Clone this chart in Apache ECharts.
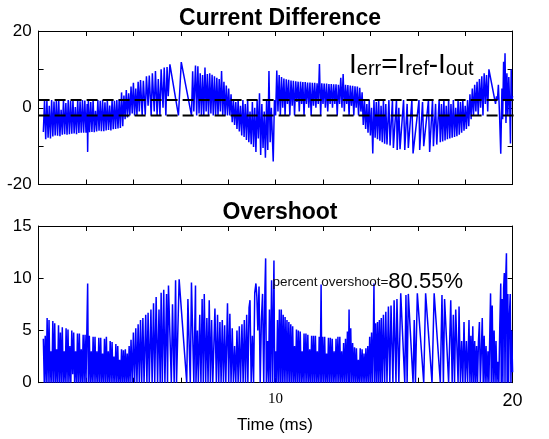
<!DOCTYPE html>
<html>
<head>
<meta charset="utf-8">
<style>
html,body{margin:0;padding:0;background:#fff;}
#chart{width:549px;height:439px;}
</style>
<script src="https://cdn.jsdelivr.net/npm/echarts@6.0.0/dist/echarts.min.js"></script>
</head>
<body>
<div id="chart"></div>
<script>
// ---------------- data (time in ms, value) ----------------
// Current difference I_err, read piecewise from the reference
const ierrA = [[0.20,-6.3],[0.25,1.8],[0.30,-8.2],[0.35,2.0],[0.40,-7.8],[0.45,0.5],[0.50,-8.0],[0.55,2.0],[0.60,-7.5],[0.65,1.6],[0.70,-7.2],[0.75,2.1],[0.80,-7.3],[0.85,1.9],[0.90,-7.4],[0.95,-0.5],[1.00,-7.0],[1.05,2.0],[1.10,-6.9],[1.15,1.2],[1.20,-7.0],[1.25,2.0],[1.30,-6.9],[1.35,1.8],[1.40,-6.8],[1.45,2.1],[1.50,-6.7],[1.55,0.2],[1.60,-6.9],[1.65,2.0],[1.70,-6.6],[1.75,1.7],[1.80,-6.5],[1.85,2.0],[1.90,-6.5],[1.95,1.9],[2.00,-6.5],[2.05,1.0],[2.07,-11.5],[2.10,2.0],[2.15,-6.4],[2.20,1.5],[2.25,-6.3],[2.30,2.0],[2.35,-6.4],[2.40,-0.8],[2.45,-6.2],[2.50,2.0],[2.55,-6.0],[2.60,1.8],[2.65,-6.1],[2.70,2.0],[2.75,-6.1],[2.80,1.4],[2.85,-5.9],[2.90,2.0],[2.95,-5.8],[3.00,0.6],[3.05,-5.9],[3.10,2.1],[3.15,-5.6],[3.20,1.8],[3.25,-5.5],[3.30,2.0],[3.35,-5.4],[3.40,2.2],[3.45,-5.3]];
const ierrB = [[3.50,4.0],[3.55,-4.8],[3.60,3.2],[3.65,-3.0],[3.70,4.6],[3.75,-2.5],[3.80,3.8],[3.85,-2.0],[3.90,5.5],[3.95,-1.5],[4.00,6.5],[4.05,-2.0],[4.10,5.0],[4.15,-2.0],[4.20,6.8],[4.25,-1.0],[4.30,7.2],[4.37,-2.0],[4.42,7.0],[4.50,-1.8],[4.55,8.2],[4.62,0.5],[4.67,8.4],[4.75,-2.0],[4.80,9.0],[4.88,-1.0],[4.93,9.6],[5.00,-2.0],[5.05,7.5],[5.12,-2.0],[5.17,10.0],[5.25,0.0],[5.30,10.5],[5.37,-2.0],[5.42,10.6],[5.47,3.0],[5.54,11.3],[5.90,-2.0],[6.02,11.9],[6.45,-2.0],[6.50,9.5],[6.55,-1.0],[6.62,11.0]];
const ierrC = [[6.67,-2.0],[6.72,10.8],[6.77,-1.5],[6.82,9.0],[6.87,-2.0],[6.92,8.5],[6.97,-2.0],[7.02,10.5],[7.07,-1.0],[7.12,8.8],[7.17,-2.0],[7.22,9.0],[7.27,-1.5],[7.32,8.6],[7.37,-2.0],[7.42,8.2],[7.47,-2.0],[7.52,7.8],[7.57,-2.0],[7.62,7.5],[7.67,-1.0],[7.72,9.6],[7.77,-2.0],[7.82,6.8],[7.87,-2.0],[7.92,5.8],[7.97,-2.0],[8.02,5.0],[8.07,-2.0],[8.12,3.5]];
const ierrD = [[8.17,-3.8],[8.22,2.0],[8.27,-4.5],[8.32,1.5],[8.37,-5.5],[8.42,2.0],[8.47,-6.2],[8.52,0.5],[8.57,-7.2],[8.62,2.0],[8.67,-7.6],[8.72,1.0],[8.77,-8.4],[8.82,2.0],[8.87,-9.0],[8.92,-1.0],[8.97,-9.5],[9.02,1.5],[9.07,-10.2],[9.12,0.0],[9.17,-11.5],[9.22,2.0],[9.27,-8.0],[9.32,3.8],[9.37,-12.3],[9.42,1.0],[9.47,-10.5],[9.52,-1.0],[9.57,-13.0],[9.62,2.0],[9.67,-11.0],[9.72,9.6],[9.77,-9.0],[9.82,0.0],[9.90,-14.0],[9.95,2.0]];
const ierrE = [[10.00,-2.0],[10.05,9.7],[10.10,-1.0],[10.15,8.5],[10.20,-2.0],[10.25,8.0],[10.30,0.0],[10.35,7.6],[10.40,-2.0],[10.45,7.4],[10.50,1.0],[10.55,7.3],[10.60,-2.0],[10.65,7.1],[10.70,0.5],[10.75,7.0],[10.80,-2.0],[10.85,6.9],[10.90,1.5],[10.95,6.8],[11.00,-1.0],[11.05,6.8],[11.10,1.0],[11.15,6.7],[11.20,-2.0],[11.25,6.7],[11.30,1.0],[11.35,6.6],[11.40,0.0],[11.45,6.6],[11.50,-2.0],[11.55,6.5],[11.60,0.5],[11.65,6.5],[11.70,0.0],[11.75,6.4],[11.80,1.0],[11.85,11.4],[11.90,-2.0],[11.95,6.4],[12.00,1.0],[12.05,6.3],[12.10,0.0],[12.15,6.3],[12.20,-1.0],[12.25,6.2],[12.30,1.0],[12.35,6.2],[12.40,0.0],[12.45,6.1],[12.50,1.0],[12.55,6.1],[12.60,-2.0],[12.65,6.0],[12.70,1.0],[12.75,7.8],[12.80,0.0],[12.85,8.8],[12.90,-1.0],[12.95,6.0],[13.00,1.0],[13.05,5.9],[13.10,-2.0],[13.15,5.8],[13.20,0.5],[13.25,5.7],[13.30,-2.0],[13.35,5.6],[13.40,0.0],[13.45,5.5],[13.50,-2.0],[13.55,5.2],[13.60,-1.0],[13.65,4.0]];
const ierrF = [[13.70,-4.5],[13.75,2.0],[13.80,-5.5],[13.85,1.0],[13.90,-6.5],[13.95,2.0],[14.00,-7.2],[14.05,0.0],[14.10,-11.9],[14.15,2.0],[14.20,-7.8],[14.25,1.5],[14.30,-8.2],[14.35,2.0],[14.40,-8.6],[14.45,0.5],[14.50,-9.0],[14.55,2.0],[14.60,-9.4],[14.65,1.0],[14.70,-9.6],[14.78,2.0],[14.83,-9.8],[14.93,2.0],[14.97,-10.5],[15.10,2.0],[15.13,-11.0],[15.20,0.0],[15.25,-10.8],[15.40,2.0],[15.45,-11.0],[15.55,1.0],[15.60,-10.5],[15.75,2.0],[15.80,-11.9],[16.05,2.0],[16.08,-11.0],[16.20,1.5],[16.25,-10.0],[16.45,2.0],[16.50,-11.5],[16.62,2.0],[16.66,-10.0],[16.75,1.0],[16.80,-9.6],[16.90,2.0],[16.95,-9.0],[17.00,1.0],[17.05,-8.8],[17.10,2.0],[17.15,-8.5],[17.20,0.5],[17.25,-8.2],[17.30,2.0],[17.35,-8.0],[17.40,1.0],[17.45,-7.8],[17.50,2.0],[17.55,-7.6],[17.60,0.0],[17.65,-7.4],[17.70,2.0],[17.75,-7.0],[17.80,1.5],[17.85,-6.5],[17.90,2.0],[17.95,-6.0],[18.00,0.5],[18.05,-5.5],[18.10,2.0],[18.15,-4.8],[18.20,3.5]];
const ierrG = [[18.25,-3.0],[18.30,5.0],[18.35,-2.0],[18.40,6.0],[18.45,-1.0],[18.50,6.8],[18.55,-2.0],[18.60,7.5],[18.65,0.0],[18.70,8.2],[18.75,-2.0],[18.80,9.0],[18.85,1.0],[18.90,8.5],[18.95,-1.0],[19.00,10.0],[19.28,1.0],[19.32,3.0],[19.36,2.0],[19.40,6.0],[19.45,-2.0],[19.50,-12.0],[19.55,5.0],[19.58,-3.0],[19.62,12.0],[19.65,2.0],[19.68,14.2],[19.72,-4.0],[19.76,9.0],[19.80,-2.0],[19.84,8.0],[19.88,0.0],[19.91,-9.3],[19.94,10.0],[19.97,2.0],[20.00,3.0]];

// hysteresis band levels and the x extent of the dashed band lines
const bandLevels = [2, -2];
const bandExtent = [0, 21.5];

// Overshoot, read piecewise from the reference
const overA = [[0.20,4.2],[0.24,0],[0.28,4.5],[0.32,0],[0.36,6.2],[0.40,0],[0.44,6.0],[0.48,0],[0.52,3.0],[0.56,0],[0.60,5.9],[0.64,0],[0.68,5.7],[0.72,0],[0.76,3.2],[0.80,0],[0.84,5.5],[0.88,0],[0.92,4.8],[0.96,0],[1.00,5.3],[1.04,0],[1.08,3.0],[1.12,0],[1.16,5.2],[1.20,0],[1.24,5.1],[1.28,0],[1.32,3.5],[1.36,0],[1.40,5.0],[1.44,0.8],[1.48,4.8],[1.52,0],[1.56,3.0],[1.60,0],[1.64,4.7],[1.68,0],[1.72,4.7],[1.76,0],[1.80,3.2],[1.84,0],[1.88,4.6],[1.92,0],[1.96,4.6],[2.00,0],[2.04,5.5],[2.07,9.5],[2.10,0],[2.14,4.5],[2.18,0],[2.22,3.0],[2.26,0],[2.30,4.4],[2.34,0],[2.38,4.4],[2.42,0],[2.46,3.0],[2.50,0],[2.54,4.3],[2.58,0],[2.62,4.3],[2.66,0],[2.70,2.8],[2.74,0],[2.78,4.2],[2.82,0],[2.86,4.4],[2.90,0],[2.94,3.0],[2.98,0],[3.02,4.0],[3.06,0],[3.10,3.9],[3.14,0],[3.18,2.5],[3.22,0],[3.26,3.7],[3.30,0],[3.34,3.5],[3.38,0],[3.42,2.2],[3.46,0],[3.50,3.2],[3.54,0],[3.58,3.1],[3.62,0],[3.66,3.2],[3.70,0],[3.74,2.8],[3.78,0],[3.82,3.5]];
const overB = [[3.86,0],[3.90,4.1],[3.95,0],[4.00,4.8],[4.05,0],[4.10,5.2],[4.15,0],[4.20,5.6],[4.25,0],[4.30,6.0],[4.35,0],[4.40,6.2],[4.45,0],[4.52,6.5],[4.57,0],[4.62,6.7],[4.67,0],[4.74,7.0],[4.79,0],[4.85,7.6],[4.90,0],[4.96,8.2],[5.02,0],[5.08,7.0],[5.13,0],[5.17,8.6],[5.22,0],[5.28,8.9],[5.33,0],[5.40,8.5],[5.44,0],[5.48,9.3],[5.60,0],[5.65,7.5],[5.72,0],[5.78,9.8],[5.82,0],[5.93,9.9],[6.25,0],[6.30,8.0],[6.40,0],[6.45,9.6],[6.55,0]];
const overC = [[6.62,9.3],[6.64,0],[6.70,5.0],[6.74,0],[6.80,6.5],[6.85,0],[6.90,8.0],[6.95,0],[6.99,8.5],[7.05,0],[7.10,6.2],[7.15,0],[7.20,7.9],[7.25,0],[7.30,6.0],[7.35,0],[7.44,7.1],[7.50,0],[7.55,6.5],[7.60,0],[7.65,5.8],[7.70,0],[7.75,6.0],[7.80,0],[7.85,5.5],[7.90,0],[7.97,7.6],[8.02,0],[8.07,6.6],[8.12,0],[8.17,5.2],[8.22,0],[8.27,3.5],[8.32,0],[8.37,5.0],[8.42,0],[8.47,5.4],[8.52,0],[8.58,5.6],[8.63,0],[8.68,6.0],[8.73,0],[8.78,6.5],[8.83,0],[8.88,7.2],[8.92,7.9],[8.97,0],[9.02,4.5],[9.07,0],[9.12,8.6],[9.17,9.5],[9.21,8.2],[9.25,5.0],[9.30,9.2],[9.35,0],[9.40,6.0],[9.45,8.5],[9.50,0],[9.55,9.0],[9.58,11.9],[9.61,0],[9.66,4.0],[9.70,0],[9.74,7.0],[9.78,0],[9.83,9.8],[9.87,0],[9.93,11.7],[9.96,0],[10.00,3.0],[10.04,0]];
const overD = [[10.08,6.0],[10.12,0],[10.16,7.0],[10.20,0],[10.24,7.0],[10.28,0],[10.32,6.5],[10.36,0],[10.40,6.3],[10.44,0],[10.48,6.0],[10.52,0],[10.56,5.8],[10.60,0],[10.64,5.6],[10.68,0],[10.72,5.4],[10.76,0],[10.80,3.5],[10.84,0],[10.88,5.1],[10.92,0],[10.96,5.0],[11.00,0],[11.04,4.9],[11.08,0],[11.12,3.0],[11.16,0],[11.20,4.7],[11.24,0],[11.28,4.7],[11.32,0],[11.36,4.6],[11.40,0],[11.44,3.2],[11.48,0],[11.52,4.5],[11.56,0],[11.60,4.5],[11.64,0],[11.68,4.5],[11.72,0],[11.76,3.0],[11.80,0],[11.84,4.4],[11.88,0],[11.92,9.4],[11.95,0],[11.99,4.4],[12.03,0],[12.07,4.4],[12.11,0],[12.15,2.8],[12.19,0],[12.23,4.3],[12.27,0],[12.31,4.3],[12.35,0],[12.39,4.2],[12.43,0],[12.47,3.0],[12.51,0],[12.55,4.2],[12.59,0],[12.63,4.4],[12.67,0],[12.71,4.4],[12.75,0],[12.79,3.0],[12.83,0],[12.87,3.8],[12.91,0],[12.95,4.2],[12.99,0],[13.03,4.9],[13.07,0],[13.10,7.0],[13.13,0],[13.17,5.2],[13.21,0],[13.25,3.8],[13.29,0],[13.33,3.4],[13.37,0],[13.41,3.3],[13.45,0],[13.49,2.2],[13.53,0],[13.57,3.3],[13.61,0],[13.65,3.2],[13.69,0],[13.73,2.8],[13.77,0],[13.81,3.3],[13.85,0],[13.89,3.5],[13.93,0]];
const overE = [[13.97,4.4],[14.01,0],[14.05,4.8],[14.09,0],[14.13,5.5],[14.15,9.5],[14.18,0],[14.22,5.7],[14.26,0],[14.30,5.8],[14.34,0],[14.38,6.0],[14.42,0],[14.46,6.2],[14.50,0],[14.55,6.5],[14.60,0],[14.65,6.8],[14.70,0],[14.76,7.3],[14.82,0],[14.87,7.4],[14.95,0],[15.00,7.9],[15.08,0],[15.12,8.0],[15.20,0],[15.28,8.55],[15.45,0],[15.50,8.4],[15.55,0],[15.60,8.5],[15.80,0],[15.85,6.0],[15.90,0],[15.98,8.55],[16.25,0],[16.33,8.55],[16.60,0],[16.69,8.55],[16.95,0],[17.02,8.4],[17.08,0],[17.13,8.0],[17.30,0],[17.39,7.9],[17.45,0],[17.50,6.5],[17.55,0],[17.60,7.0],[17.70,0],[17.74,7.3],[17.80,0],[17.85,4.0],[17.90,0],[17.95,5.8],[18.00,0],[18.05,4.0],[18.10,0],[18.16,6.0],[18.20,0]];
const overF = [[18.24,4.5],[18.28,0],[18.32,5.4],[18.36,0],[18.40,4.0],[18.44,0],[18.48,3.5],[18.52,0],[18.56,4.0],[18.60,5.8],[18.64,0],[18.68,3.0],[18.72,6.2],[18.76,0],[18.80,4.5],[18.84,0],[18.88,3.5],[18.92,0],[18.96,3.0],[19.00,0],[19.04,5.0],[19.07,8.55],[19.10,0],[19.14,7.4],[19.18,0],[19.22,5.0],[19.26,0],[19.30,4.0],[19.34,0],[19.38,2.0],[19.42,0],[19.46,5.5],[19.50,9.5],[19.52,0],[19.56,8.0],[19.59,0],[19.62,9.0],[19.65,10.5],[19.68,0],[19.71,10.0],[19.74,12.4],[19.77,0],[19.80,8.5],[19.83,0],[19.86,6.0],[19.90,8.5],[19.93,0],[19.96,5.0],[20.00,1.0]];

// axis ranges / ticks
const timeRange = [0, 20, 2];
const errRange = [-20, 20, 10];
const errLabels = [-20, 0, 20];
const overRange = [0, 15, 5];
const timeLabels = [10, 20];

// texts
const titleTop = 'Current Difference';
const titleBottom = 'Overshoot';
const xName = 'Time (ms)';
const overshootLabel = 'percent overshoot=';
const overshootValue = '80.55%';

// ---------------- chart ----------------
const ierr = [].concat(ierrA, ierrB, ierrC, ierrD, ierrE, ierrF, ierrG);
const overshoot = [].concat(overA, overB, overC, overD, overE, overF);

const FONT = "'Liberation Sans', Arial, sans-serif";
const chart = echarts.init(document.getElementById('chart'), null, {renderer: 'canvas'});

function xAx(grid, pos, labels) {
  return {
    type: 'value', gridIndex: grid, position: pos,
    min: timeRange[0], max: timeRange[1], interval: timeRange[2],
    axisLine: {show: true, onZero: false, lineStyle: {color: '#000', width: 1}},
    axisTick: {show: true, inside: true, length: 5, lineStyle: {color: '#000', width: 1}},
    splitLine: {show: false},
    axisLabel: labels ? {
      show: true, margin: 9, color: '#000',
      formatter: v => timeLabels.indexOf(v) < 0 ? '' : (v === 10 ? '{s|' + v + '}' : '{a|' + v + '}'),
      rich: {
        s: {fontFamily: "'Liberation Serif', 'Times New Roman', serif", fontSize: 15, color: '#000'},
        a: {fontFamily: FONT, fontSize: 18, color: '#000'}
      }
    } : {show: false}
  };
}
function yAx(grid, pos, range, labels) {
  return {
    type: 'value', gridIndex: grid, position: pos,
    min: range[0], max: range[1], interval: range[2],
    axisLine: {show: true, onZero: false, lineStyle: {color: '#000', width: 1}},
    axisTick: {show: true, inside: true, length: 5, lineStyle: {color: '#000', width: 1}},
    splitLine: {show: false},
    axisLabel: labels ? {
      show: true, margin: 7, color: '#000', fontFamily: FONT, fontSize: 17,
      formatter: v => (labels === true || labels.indexOf(v) >= 0) ? String(v) : ''
    } : {show: false}
  };
}

const sigStyle = {color: '#0000ff', width: 1.5, join: 'bevel'};

const option = {
  animation: false,
  backgroundColor: '#fff',
  grid: [
    {left: 38.6, top: 31, width: 474, height: 153.5, show: false},
    {left: 38.6, top: 226, width: 474, height: 156.7, show: false}
  ],
  xAxis: [xAx(0, 'bottom', false), xAx(0, 'top', false), xAx(1, 'bottom', true), xAx(1, 'top', false)],
  yAxis: [yAx(0, 'left', errRange, errLabels), yAx(0, 'right', errRange, false),
          yAx(1, 'left', overRange, true), yAx(1, 'right', overRange, false)],
  series: [
    {type: 'line', xAxisIndex: 0, yAxisIndex: 0, data: ierr, symbol: 'none', silent: true,
     lineStyle: sigStyle},
    {type: 'line', xAxisIndex: 0, yAxisIndex: 0, symbol: 'none', silent: true, clip: false,
     data: bandExtent.map(t => [t, bandLevels[0]]),
     lineStyle: {color: '#000', width: 2, type: [11, 5]}},
    {type: 'line', xAxisIndex: 0, yAxisIndex: 0, symbol: 'none', silent: true, clip: false,
     data: bandExtent.map(t => [t, bandLevels[1]]),
     lineStyle: {color: '#000', width: 2, type: [11, 5]}},
    {type: 'line', xAxisIndex: 2, yAxisIndex: 2, data: overshoot, symbol: 'none', silent: true,
     lineStyle: sigStyle}
  ],
  graphic: [
    {type: 'text', x: 280, y: 18.3, silent: true,
     style: {text: titleTop, fontFamily: FONT, fontWeight: 'bold', fontSize: 23, fill: '#000', align: 'center', verticalAlign: 'middle'}},
    {type: 'text', x: 280, y: 212.5, silent: true,
     style: {text: titleBottom, fontFamily: FONT, fontWeight: 'bold', fontSize: 23, fill: '#000', align: 'center', verticalAlign: 'middle'}},
    {type: 'text', x: 275, y: 425, silent: true,
     style: {text: xName, fontFamily: FONT, fontSize: 17, fill: '#000', align: 'center', verticalAlign: 'middle'}},
    {type: 'text', x: 349, y: 51, silent: true, z: 100,
     style: {
       text: '{m|I}{s|err}{m|=I}{s|ref}{m|-I}{s|out}',
       align: 'left', verticalAlign: 'top',
       rich: {
         m: {fontFamily: FONT, fontSize: 28, lineHeight: 28, fill: '#000', verticalAlign: 'middle'},
         s: {fontFamily: FONT, fontSize: 20, lineHeight: 17, fill: '#000', verticalAlign: 'bottom'}
       }
     }},
    {type: 'text', x: 272.4, y: 271.4, silent: true, z: 100,
     style: {
       text: '{a|' + overshootLabel + '}{b|' + overshootValue + '}',
       align: 'left', verticalAlign: 'top',
       rich: {
         a: {fontFamily: FONT, fontSize: 13.5, lineHeight: 22, fill: '#111', verticalAlign: 'middle'},
         b: {fontFamily: FONT, fontSize: 22, lineHeight: 22, fill: '#000', verticalAlign: 'middle'}
       }
     }}
  ]
};
chart.setOption(option);
</script>
</body>
</html>
